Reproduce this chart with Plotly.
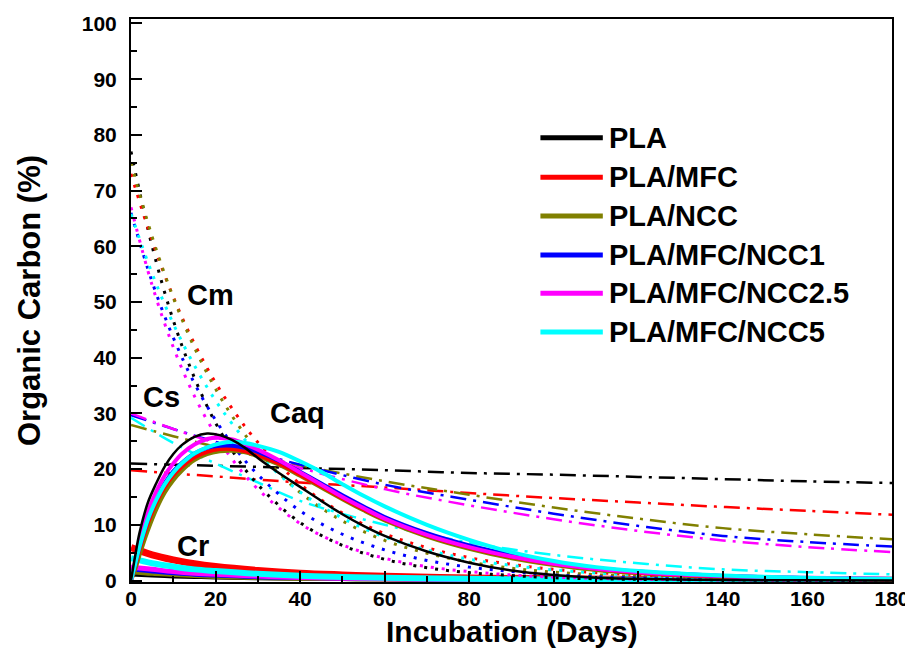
import plotly.graph_objects as go

materials = ["PLA", "PLA/MFC", "PLA/NCC", "PLA/MFC/NCC1", "PLA/MFC/NCC2.5", "PLA/MFC/NCC5"]
colors = ["#000000", "#FF0000", "#808000", "#0000FF", "#FF00FF", "#00FFFF"]

# ---- Cm (dotted) ----
x_cm = [0, 5, 10, 15, 20, 25, 30, 40, 50, 60, 70, 80, 90, 100, 120, 140, 160, 180]
cm_pla = [77.0, 60.0, 46.7, 36.4, 28.3, 22.1, 17.2, 10.4, 6.3, 3.8, 2.3, 1.4, 0.9, 0.5, 0.2, 0.1, 0.0, 0.0]
cm_mfc = [73.0, 61.0, 50.9, 42.5, 35.5, 29.7, 24.8, 17.3, 12.1, 8.4, 5.9, 4.1, 2.9, 2.0, 1.0, 0.5, 0.2, 0.1]
cm_ncc = [75.0, 61.7, 50.8, 41.8, 34.4, 28.3, 23.3, 15.8, 10.7, 7.2, 4.9, 3.3, 2.2, 1.5, 0.7, 0.3, 0.15, 0.1]
cm_ncc1 = [66.0, 53.6, 43.6, 35.4, 28.8, 23.4, 19.0, 12.5, 8.3, 5.5, 3.6, 2.4, 1.6, 1.0, 0.45, 0.2, 0.1, 0.05]
cm_ncc25 = [67.0, 53.0, 41.9, 33.1, 26.2, 20.7, 16.4, 10.2, 6.4, 4.0, 2.5, 1.6, 1.0, 0.6, 0.24, 0.1, 0.04, 0.0]
cm_ncc5 = [65.8, 55.1, 46.1, 38.6, 32.3, 27.1, 22.7, 15.9, 11.2, 7.8, 5.5, 3.8, 2.7, 1.9, 0.93, 0.46, 0.22, 0.11]

# ---- Cs (dash-dot) ----
x_cs = [0, 10, 20, 30, 40, 60, 80, 100, 120, 140, 160, 180]
cs_pla = [21.0, 20.8, 20.6, 20.4, 20.2, 19.8, 19.3, 19.0, 18.6, 18.2, 17.8, 17.5]
cs_mfc = [19.8, 19.2, 18.7, 18.1, 17.6, 16.7, 15.7, 14.8, 14.0, 13.2, 12.5, 11.8]
cs_ncc = [27.9, 25.9, 24.0, 22.3, 20.7, 17.8, 15.4, 13.1, 11.1, 9.4, 8.3, 7.4]
cs_ncc1 = [29.7, 27.2, 24.9, 22.8, 20.8, 17.2, 14.5, 12.0, 9.8, 8.0, 6.9, 6.1]
cs_ncc25 = [30.0, 27.2, 24.7, 22.4, 20.2, 16.4, 13.5, 11.0, 8.9, 7.2, 6.0, 5.1]
cs_ncc5 = [29.2, 24.7, 21.0, 17.6, 14.3, 10.0, 6.8, 4.6, 3.1, 2.0, 1.5, 1.1]

# ---- Caq (thick solid) ----
x_caq = [0, 1, 2, 4, 6, 8, 10, 12, 15, 18, 21, 24, 27, 30, 35, 40, 45, 50, 55, 60,
         70, 80, 90, 100, 110, 120, 140, 160, 180]
caq_pla = [0, 4.5, 8.5, 14.0, 17.5, 20.5, 22.7, 24.3, 25.8, 26.4, 26.1, 25.2, 23.8, 22.0, 19.3,
           16.8, 14.3, 11.9, 9.8, 8.0, 5.2, 3.2, 1.8, 1.0, 0.5, 0.3, 0.1, 0.05, 0.0]
caq_mfc = [0, 2.7, 5.5, 10.3, 14.0, 16.8, 18.9, 20.4, 22.1, 23.1, 23.6, 23.6, 23.2, 22.5, 21.0,
           19.0, 16.9, 14.8, 12.8, 11.0, 8.1, 5.9, 4.2, 3.0, 2.1, 1.4, 0.7, 0.4, 0.2]
caq_ncc = [0, 2.0, 4.5, 9.0, 12.8, 15.8, 18.0, 19.7, 21.6, 22.7, 23.2, 23.3, 23.0, 22.3, 20.8,
           18.8, 16.7, 14.6, 12.6, 10.8, 7.9, 5.7, 4.0, 2.8, 1.9, 1.3, 0.6, 0.3, 0.2]
caq_ncc1 = [0, 3.0, 6.0, 11.0, 14.7, 17.5, 19.6, 21.1, 22.8, 23.8, 24.2, 24.2, 23.8, 23.1, 21.5,
            19.5, 17.4, 15.3, 13.3, 11.4, 8.5, 6.3, 4.6, 3.2, 2.2, 1.6, 0.8, 0.45, 0.25]
caq_ncc25 = [0, 3.5, 7.0, 12.3, 16.0, 18.9, 21.0, 22.7, 24.4, 25.4, 25.6, 25.3, 24.5, 23.5, 21.6,
             19.4, 17.2, 15.0, 13.0, 11.1, 8.2, 6.0, 4.3, 3.0, 2.1, 1.5, 0.8, 0.5, 0.3]
caq_ncc5 = [0, 3.0, 6.0, 11.0, 14.5, 17.3, 19.4, 21.0, 22.8, 23.9, 24.6, 24.9, 24.7, 24.2, 23.1,
            21.4, 19.5, 17.3, 15.2, 13.3, 10.0, 7.3, 5.1, 3.5, 2.4, 1.7, 0.9, 0.5, 0.3]

# ---- Cr (thick solid, small) ----
x_cr = [0, 5, 10, 15, 20, 30, 40, 50, 60, 80, 100, 120, 150, 180]
cr_pla = [1.0, 0.8, 0.65, 0.55, 0.45, 0.32, 0.23, 0.17, 0.12, 0.07, 0.04, 0.02, 0.01, 0.0]
cr_mfc = [5.9, 4.6, 3.7, 3.0, 2.5, 1.8, 1.3, 1.0, 0.75, 0.45, 0.3, 0.2, 0.1, 0.05]
cr_ncc = [1.5, 1.2, 1.0, 0.8, 0.65, 0.45, 0.33, 0.25, 0.18, 0.1, 0.06, 0.04, 0.02, 0.01]
cr_ncc1 = [2.0, 1.6, 1.3, 1.05, 0.9, 0.6, 0.45, 0.33, 0.25, 0.15, 0.1, 0.06, 0.03, 0.02]
cr_ncc25 = [2.4, 2.0, 1.6, 1.3, 1.1, 0.8, 0.55, 0.4, 0.3, 0.2, 0.12, 0.08, 0.04, 0.02]
cr_ncc5 = [4.0, 3.1, 2.5, 2.0, 1.7, 1.2, 0.85, 0.65, 0.5, 0.3, 0.2, 0.12, 0.07, 0.04]

cm_all = [cm_pla, cm_mfc, cm_ncc, cm_ncc1, cm_ncc25, cm_ncc5]
cs_all = [cs_pla, cs_mfc, cs_ncc, cs_ncc1, cs_ncc25, cs_ncc5]
caq_all = [caq_pla, caq_mfc, caq_ncc, caq_ncc1, caq_ncc25, caq_ncc5]
cr_all = [cr_pla, cr_mfc, cr_ncc, cr_ncc1, cr_ncc25, cr_ncc5]

component_labels = ["Cm", "Cs", "Caq", "Cr"]
label_pos_x = [18.7, 7.1, 39.3, 14.7]
label_pos_y = [51.3, 32.9, 30.1, 6.2]

x_title = "Incubation (Days)"
y_title = "Organic Carbon (%)"

FONT = "Liberation Sans, Arial, sans-serif"

fig = go.Figure()

def add(x, y, color, width, dash, name):
    fig.add_trace(go.Scatter(x=x, y=y, mode="lines", name=name, showlegend=False,
                             line=dict(color=color, width=width, dash=dash,
                                       shape="spline", smoothing=1.0),
                             hoverinfo="skip"))

cr_widths = [3, 7, 4, 4, 5, 6]
for i in range(6):
    add(x_cr, cr_all[i], colors[i], cr_widths[i], "solid", materials[i] + " Cr")
for i in range(6):
    add(x_cs, cs_all[i], colors[i], 2.5, "16px,7px,3px,7px", materials[i] + " Cs")
for i in range(6):
    add(x_cm, cm_all[i], colors[i], 3, "3px,8px", materials[i] + " Cm")
caq_order = [2, 1, 3, 4, 5, 0]
for i in caq_order:
    add(x_caq, caq_all[i], colors[i], 2.5 if i == 0 else 4, "solid", materials[i] + " Caq")

# component labels
for lab, lx, ly in zip(component_labels, label_pos_x, label_pos_y):
    fig.add_annotation(x=lx, y=ly, text=lab, showarrow=False, xref="x", yref="y",
                       font=dict(family=FONT, size=29, color="black", weight="bold"))

# manual legend
leg_y = [0.789, 0.719, 0.650, 0.581, 0.513, 0.444]
for i in range(6):
    fig.add_shape(type="line", xref="paper", yref="paper", x0=0.538, x1=0.620,
                  y0=leg_y[i], y1=leg_y[i], line=dict(color=colors[i], width=5))
    fig.add_annotation(x=0.626, y=leg_y[i], xref="paper", yref="paper", text=materials[i],
                       showarrow=False, xanchor="left", yanchor="middle",
                       font=dict(family=FONT, size=29, color="black", weight="bold"))

# x-axis title placed as text just under the tick labels
fig.add_annotation(x=0.5, y=-0.088, xref="paper", yref="paper", text=x_title,
                   showarrow=False, xanchor="center", yanchor="middle",
                   font=dict(family=FONT, size=30, color="black", weight="bold"))

axis_common = dict(showline=True, linecolor="black", linewidth=2, mirror=True,
                   ticks="inside", tickcolor="black", tickwidth=2, ticklen=11,
                   showgrid=False, zeroline=False, automargin=False,
                   ticklabeloverflow="allow",
                   tickfont=dict(family=FONT, size=21, color="black", weight="bold"))

fig.update_xaxes(range=[0, 180], tickvals=[0, 20, 40, 60, 80, 100, 120, 140, 160, 180],
                 minor=dict(ticks="inside", ticklen=6, tickwidth=2, tickcolor="black", dtick=10, tick0=0),
                 ticklabelstandoff=-3,
                 **axis_common)
fig.update_yaxes(range=[-0.27, 100.8], tickvals=[0, 10, 20, 30, 40, 50, 60, 70, 80, 90, 100],
                 minor=dict(ticks="inside", ticklen=6, tickwidth=2, tickcolor="black", dtick=5, tick0=0),
                 ticklabelstandoff=8,
                 title=dict(text=y_title, standoff=32,
                            font=dict(family=FONT, size=31, color="black", weight="bold")),
                 **axis_common)

# page body has an 8px margin, so the figure is sized to fit the 913x656 window
fig.update_layout(width=905, height=640, margin=dict(l=123, r=21, t=11, b=66),
                  plot_bgcolor="white", paper_bgcolor="white", showlegend=False)

fig.write_html("out.html")
